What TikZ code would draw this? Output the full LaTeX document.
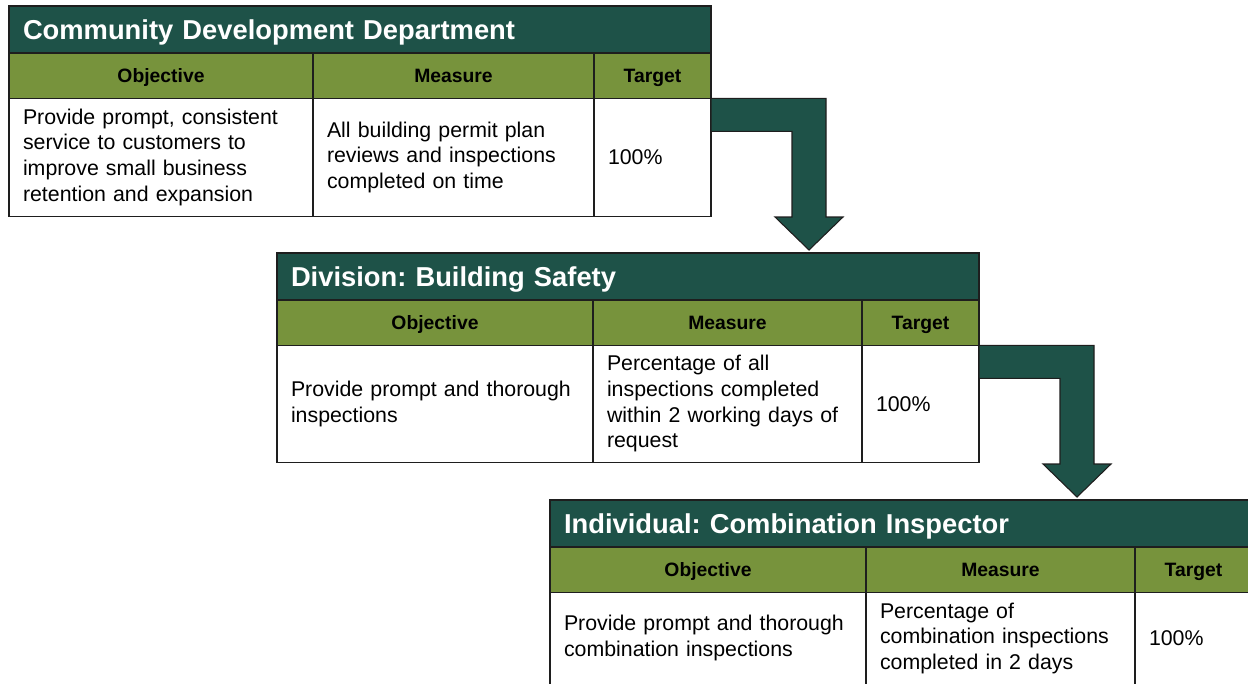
\documentclass[tikz,border=0pt]{standalone}
\usepackage{fontspec}
\setmainfont{Liberation Sans}
\usetikzlibrary{calc}
\frenchspacing

\definecolor{titlegreen}{RGB}{30,82,72}
\definecolor{headgreen}{RGB}{119,147,60}
\definecolor{gridline}{RGB}{30,30,30}

\tikzset{
  tbltitle/.style={anchor=north west, draw=gridline, fill=titlegreen, text=white, line width=1pt, outer sep=0pt,
    inner xsep=10.5pt, text width=505.5pt, align=left, minimum height=35.25pt, text height=14.7pt, text depth=0pt,
    font=\bfseries\fontsize{20.5}{24}\selectfont},
  tblhead/.style={anchor=north west, draw=gridline, fill=headgreen, line width=1pt, outer sep=0pt,
    minimum height=34pt, minimum width=#1, text height=10.4pt, text depth=0pt, font=\bfseries\fontsize{14.5}{17}\selectfont},
  tblcell/.style={anchor=north west, draw=gridline, fill=white, line width=1pt, outer sep=0pt,
    inner xsep=10.5pt, text width=#1, align=left, font=\fontsize{16}{19.3}\selectfont},
  flowarrow/.style={draw=gridline, fill=titlegreen, line width=0.8pt, line join=miter}
}

\begin{document}
\begin{tikzpicture}[x=0.75pt,y=0.75pt,yscale=-1,xscale=1]
\useasboundingbox (0,0) rectangle (1248,683);

% Department table
\node[tbltitle] (t1title) at (9,6) {Community Development Department};
\node[tblhead=228pt] (t1head1) at (t1title.south west) {Objective};
\node[tblhead=210.75pt] (t1head2) at (t1head1.north east) {Measure};
\node[tblhead=87.75pt] (t1head3) at (t1head2.north east) {Target};
\node[tblcell=207pt, minimum height=88.5pt] (t1body1) at (t1head1.south west) {Provide prompt, consistent\\service to customers to\\improve small business\\retention and expansion};
\node[tblcell=189.75pt, minimum height=88.5pt] (t1body2) at (t1head2.south west) {All building permit plan\\reviews and inspections\\completed on time};
\node[tblcell=66.75pt, minimum height=88.5pt] (t1body3) at (t1head3.south west) {100\%};

% Division table
\node[tbltitle] (t2title) at (277,253) {Division: Building Safety};
\node[tblhead=237pt] (t2head1) at (t2title.south west) {Objective};
\node[tblhead=201.75pt] (t2head2) at (t2head1.north east) {Measure};
\node[tblhead=87.75pt] (t2head3) at (t2head2.north east) {Target};
\node[tblcell=216pt, minimum height=87.75pt] (t2body1) at (t2head1.south west) {Provide prompt and thorough\\inspections};
\node[tblcell=180.75pt, minimum height=87.75pt] (t2body2) at (t2head2.south west) {Percentage of all\\inspections completed\\within 2 working days of\\request};
\node[tblcell=66.75pt, minimum height=87.75pt] (t2body3) at (t2head3.south west) {100\%};

% Individual table
\node[tbltitle] (t3title) at (550,500) {Individual: Combination Inspector};
\node[tblhead=237pt] (t3head1) at (t3title.south west) {Objective};
\node[tblhead=201.75pt] (t3head2) at (t3head1.north east) {Measure};
\node[tblhead=87.75pt] (t3head3) at (t3head2.north east) {Target};
\node[tblcell=216pt, minimum height=69pt] (t3body1) at (t3head1.south west) {Provide prompt and thorough\\combination inspections};
\node[tblcell=180.75pt, minimum height=69pt] (t3body2) at (t3head2.south west) {Percentage of\\combination inspections\\completed in 2 days};
\node[tblcell=66.75pt, minimum height=69pt] (t3body3) at (t3head3.south west) {100\%};

% Bent arrows
\coordinate (a1start) at (t1body3.north east);
\coordinate (a1tip) at ($(a1start |- t2title.north)+(98,-3)$);
\draw[flowarrow] (a1start) -| ($(a1tip)+(17,-33)$) -- ++(17,0) -- (a1tip) -- ++(-34,-33) -- ++(17,0) |- ($(a1start)+(0,33)$) -- cycle;

\coordinate (a2start) at (t2body3.north east);
\coordinate (a2tip) at ($(a2start |- t3title.north)+(98,-3)$);
\draw[flowarrow] (a2start) -| ($(a2tip)+(17,-33)$) -- ++(17,0) -- (a2tip) -- ++(-34,-33) -- ++(17,0) |- ($(a2start)+(0,33)$) -- cycle;
\end{tikzpicture}
\end{document}
